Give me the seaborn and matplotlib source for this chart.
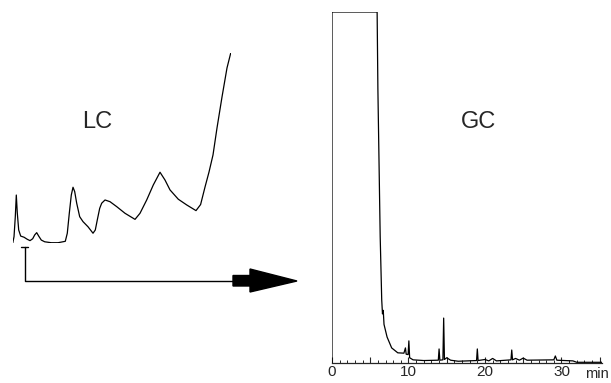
import numpy as np
import pandas as pd
import matplotlib.pyplot as plt
import seaborn as sns
from matplotlib.ticker import MultipleLocator, FuncFormatter
from matplotlib.patches import Polygon

# LC trace (arbitrary time units / absorbance units)
lc_time = [0, 0.33, 0.65, 0.9, 1.15, 1.5, 2.0, 2.83, 3.65, 4.33, 5.0, 5.5, 6.0,
           6.5, 7.15, 8.0, 9.65, 11.33, 13.15, 13.65, 14.15, 14.65, 15.08, 15.5,
           16.0, 16.75, 17.58, 18.83, 20.08, 20.65, 21.15, 21.75, 22.25, 23.08,
           24.33, 26.0, 28.08, 30.58, 31.83, 33.5, 35.15, 36.83, 38.08, 39.33,
           41.4, 43.5, 45.83, 46.98, 48.08, 49.08, 50.08, 51.08, 52.33, 53.58, 54.58]
lc_signal = [0, 3.5, 14.0, 25.4, 15.9, 7.0, 3.8, 3.2, 2.1, 1.4, 2.4, 4.4, 5.6,
             3.8, 1.7, 0.8, 0.3, 0.3, 1.05, 5.3, 15.8, 25.4, 29.5, 27.2,
             21.1, 14.0, 11.4, 8.7, 5.3, 7.0, 12.3, 18.4, 21.1, 22.8,
             21.9, 19.3, 15.8, 12.6, 15.8, 22.8, 30.7, 37.4, 33.3, 28.1,
             23.2, 20.2, 17.2, 20.4, 29.6, 37.5, 46.5, 60.7, 77.0, 92.3, 100.7]

# GC trace (min / % of recorder full scale)
gc_time = [0, 0, 5.9, 6.0, 6.3, 6.5, 6.6, 6.7, 6.8, 7.2, 7.8, 8.6, 9.4, 9.6, 9.7,
           9.95, 10.05, 10.15, 10.6, 12.0, 13.9, 14.0, 14.1, 14.5, 14.6, 14.7,
           15.0, 15.5, 16.5, 18.9, 19.0, 19.1, 20.0, 20.5, 21.0, 21.5, 23.4,
           23.5, 23.6, 24.0, 24.5, 25.0, 25.5, 29.0, 29.2, 29.4, 31.5, 32.0, 35.3]
gc_signal = [0, 100, 100, 78, 36, 18, 14, 15, 11, 7.4, 4.3, 2.9, 2.8, 4.3, 2.5,
             2.4, 6.3, 1.5, 0.9, 0.7, 0.8, 4.0, 0.8, 0.9, 12.8, 1.0,
             1.5, 0.8, 0.5, 0.7, 4.0, 0.7, 1.0, 0.6, 1.3, 0.6, 0.9,
             3.7, 0.9, 1.3, 0.8, 1.4, 0.8, 0.9, 2.0, 0.8, 0.6, 0.2, 0.2]

sns.set_style("white")
plt.rcParams['font.family'] = ['Liberation Sans', 'DejaVu Sans']

W, H = 611, 383
fig = plt.figure(figsize=(W / 100, H / 100), dpi=100)


def frac(x0, y0, x1, y1):
    # pixel box -> figure fraction rect
    return [x0 / W, 1 - y1 / H, (x1 - x0) / W, (y1 - y0) / H]


# LC panel
ax_lc = fig.add_axes(frac(12.7, 53.3, 231, 243.3))
df_lc = pd.DataFrame({'t': lc_time, 's': lc_signal})
sns.lineplot(data=df_lc, x='t', y='s', ax=ax_lc, color='black', lw=0.9,
             sort=False, estimator=None)
ax_lc.set_xlim(0, 54.58)
ax_lc.set_ylim(0, 100)
ax_lc.axis('off')

# GC panel
ax_gc = fig.add_axes(frac(332, 12, 602, 363))
df_gc = pd.DataFrame({'t': gc_time, 's': gc_signal})
sns.lineplot(data=df_gc, x='t', y='s', ax=ax_gc, color='black', lw=0.9,
             sort=False, estimator=None)
ax_gc.set_xlim(0, 35.3)
ax_gc.set_ylim(0, 100)
for s in ['top', 'right', 'left']:
    ax_gc.spines[s].set_visible(False)
ax_gc.spines['bottom'].set_linewidth(0.9)
ax_gc.set_yticks([])
ax_gc.xaxis.set_major_locator(MultipleLocator(5))
ax_gc.xaxis.set_minor_locator(MultipleLocator(1))
ax_gc.xaxis.set_major_formatter(FuncFormatter(lambda v, p: f"{v:.0f}" if v % 10 == 0 else ""))
ax_gc.tick_params(axis='x', which='major', direction='in', length=4, width=0.8,
                  labelsize=11, pad=1.5, bottom=True)
ax_gc.tick_params(axis='x', which='minor', direction='in', length=2, width=0.7, bottom=True)
ax_gc.set_xlabel('')
ax_gc.set_ylabel('')

# overlay for labels and transfer arrow
ov = fig.add_axes([0, 0, 1, 1])
ov.set_xlim(0, W)
ov.set_ylim(H, 0)
ov.axis('off')
ov.patch.set_alpha(0)

ov.text(97, 122, 'LC', fontsize=17, ha='center', va='center')
ov.text(479, 122, 'GC', fontsize=17, ha='center', va='center')
ov.text(609, 374, 'min', fontsize=10.5, ha='right', va='center')

ov.plot([21, 28], [247, 247], color='black', lw=1)
ov.plot([24.5, 24.5, 235], [247, 281, 281], color='black', lw=1)
ov.add_patch(Polygon([[233, 275.5], [250, 275.5], [250, 269], [297, 281],
                      [250, 292], [250, 286], [233, 286]], closed=True,
                     color='black'))

fig.savefig('out.png', dpi=100)
